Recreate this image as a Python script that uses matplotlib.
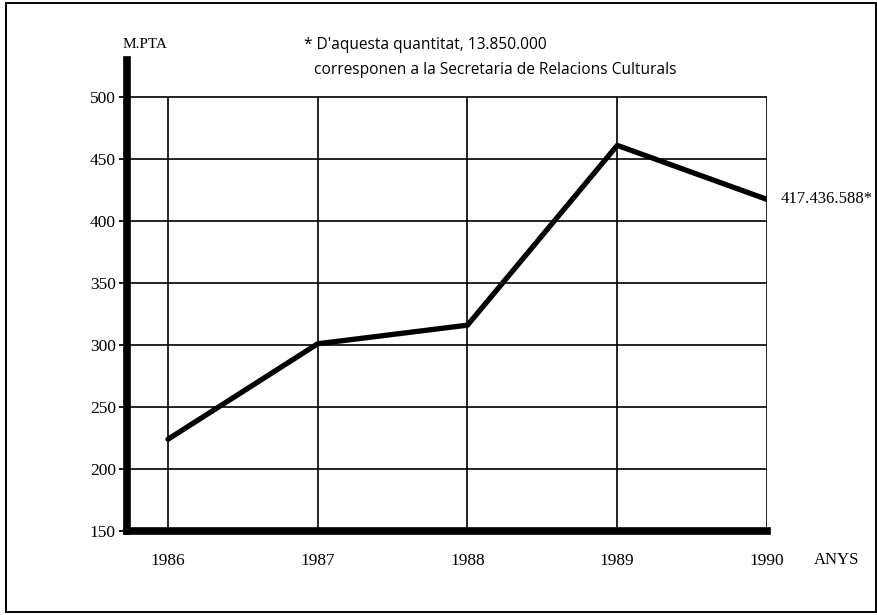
import matplotlib
matplotlib.use('agg')
import matplotlib.pyplot as plt
from matplotlib.patches import Rectangle

# data (millions of pesetas)
years = [1986, 1987, 1988, 1989, 1990]
values = [224, 301, 316, 461, 417.4]
y_ticks = [150, 200, 250, 300, 350, 400, 450, 500]
year_labels = ['1986', '1987', '1988', '1989', '1990']
last_label = '417.436.588*'
note_lines = ["* D'aquesta quantitat, 13.850.000",
              "corresponen a la Secretaria de Relacions Culturals"]

W, H = 878, 615
SERIF = 'Liberation Serif'
SANS = 'Open Sans'

fig = plt.figure(figsize=(W / 100, H / 100), dpi=100)
fig.patch.set_facecolor('white')

# outer frame of the scanned page
fig.patches.append(Rectangle((6 / W, 3 / H), 870 / W, 609 / H,
                             transform=fig.transFigure, fill=False,
                             edgecolor='black', linewidth=1.4))


def px(x0, y0, x1, y1):
    """pixel box (top-left origin) -> figure fraction [l, b, w, h]"""
    return [x0 / W, 1 - y1 / H, (x1 - x0) / W, (y1 - y0) / H]


# axes box in pixels: left spine at x=127, 1990 at x=767, 150 at y=531
ax = fig.add_axes(px(127, 60, 767, 531))
x_per_px = 4 / (767 - 168)
ax.set_xlim(1986 - (168 - 127) * x_per_px, 1990)
y_per_px = 350 / (531 - 97)
ax.set_ylim(150, 150 + (531 - 60) * y_per_px)

# grid drawn by hand so it stops at 500 and at 1990
xmin = ax.get_xlim()[0]
ax.hlines(y_ticks[1:], xmin, 1990, color='black', linewidth=1.2, zorder=1)
ax.vlines(years, 150, 500, color='black', linewidth=1.2, zorder=1)

ax.plot(years, values, color='black', linewidth=3.8,
        solid_capstyle='round', solid_joinstyle='round', zorder=3)

for side in ['top', 'right']:
    ax.spines[side].set_visible(False)
for side in ['left', 'bottom']:
    ax.spines[side].set_linewidth(5.5)
    ax.spines[side].set_capstyle('projecting')

ax.set_yticks(y_ticks)
ax.set_yticklabels([str(v) for v in y_ticks], fontfamily=SERIF, fontsize=12.5)
ax.tick_params(axis='y', direction='out', length=6, width=1.3, pad=2)
ax.set_xticks(years)
ax.set_xticklabels(year_labels, fontfamily=SERIF, fontsize=12.5)
ax.tick_params(axis='x', length=0, pad=16)

ax.text(1990.09, values[-1], last_label, fontfamily=SERIF, fontsize=12,
        ha='left', va='center')

fig.text(145 / W, 1 - 44 / H, 'M.PTA', fontfamily=SERIF, fontsize=11,
         ha='center', va='center')
fig.text(837 / W, 1 - 560 / H, 'ANYS', fontfamily=SERIF, fontsize=12,
         ha='center', va='center')
fig.text(304 / W, 1 - 45 / H, note_lines[0], fontfamily=SANS, fontsize=11.2,
         ha='left', va='center')
fig.text(314 / W, 1 - 70 / H, note_lines[1], fontfamily=SANS, fontsize=11.2,
         ha='left', va='center')

fig.savefig('out.png', dpi=100, facecolor='white')
